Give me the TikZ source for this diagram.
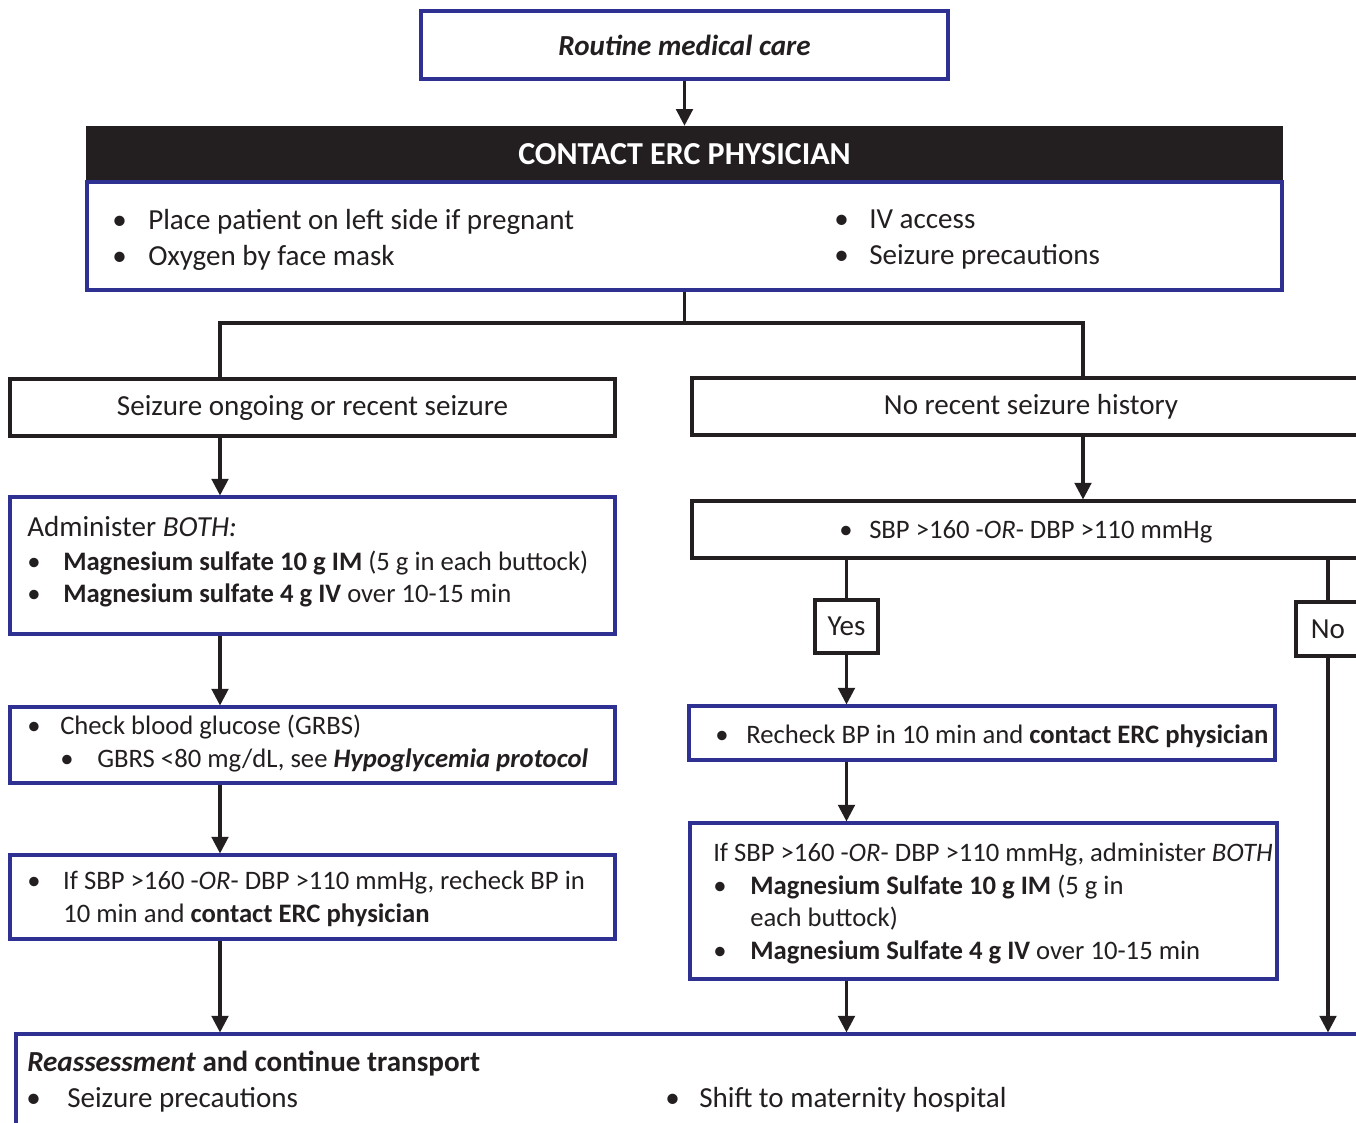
\documentclass[tikz,border=0pt]{standalone}
\usepackage{fontspec}
\setmainfont{Carlito}
\usetikzlibrary{arrows.meta}
\definecolor{navy}{RGB}{46,49,146}
\definecolor{ink}{RGB}{35,31,32}
\newcommand{\bul}[1]{\makebox[#1][l]{\textbullet}}

\begin{document}
\begin{tikzpicture}[x=0.75pt,y=-0.75pt,
  bluebox/.style={draw=navy,line width=2.3pt,fill=white,inner sep=0pt,text=ink},
  blackbox/.style={draw=ink,line width=2.3pt,fill=white,inner sep=0pt,text=ink},
  txt/.style={anchor=base west,inner sep=0pt,text=ink},
  sm/.style={font=\fontsize{20}{24}\selectfont},
  con/.style={draw=ink,line width=2.3pt},
  arr/.style={con,-{Triangle[width=12.5pt,length=12.5pt]}},
  every node/.style={font=\fontsize{21.8}{26}\selectfont}]
\useasboundingbox (0,0) rectangle (1356,1122);
\clip (0,0) rectangle (1356,1122);

% boxes
\node[bluebox,minimum width=395.25pt,minimum height=51pt] (routine) at (684.5,45) {\textbf{\textit{Routine medical care}}};
\node[fill=ink,text=white,inner sep=0pt,minimum width=898pt,minimum height=42pt,font=\fontsize{24}{28}\selectfont] (contact) at (684.5,154) {\textbf{CONTACT ERC PHYSICIAN}};
\node[bluebox,minimum width=896.25pt,minimum height=81pt] (info) at (684.5,236) {};
\node[blackbox,minimum width=453.75pt,minimum height=42.75pt] (seiz) at (312.5,407.5) {Seizure ongoing or recent seizure};
\node[blackbox,minimum width=508.5pt,minimum height=42.75pt] (nohist) at (1031,406.5) {No recent seizure history};
\node[bluebox,minimum width=453.75pt,minimum height=102.75pt] (admin) at (312.5,565.5) {};
\node[bluebox,minimum width=453.75pt,minimum height=57pt] (gluc) at (312.5,745) {};
\node[bluebox,minimum width=453.75pt,minimum height=63pt] (bpchk) at (312.5,897) {};
\node[blackbox,minimum width=508.5pt,minimum height=42.75pt] (sbp) at (1031,529.5) {};
\node[blackbox,minimum width=47.25pt,minimum height=39.75pt] (yes) at (846.5,626.5) {Yes};
\node[blackbox,minimum width=48pt,minimum height=40.5pt] (no) at (1328,629) {No};
\node[bluebox,minimum width=439.5pt,minimum height=40.5pt] (recheck) at (982,733) {};
\node[bluebox,minimum width=440.25pt,minimum height=117pt] (magr) at (983.5,901) {};
\node[bluebox,minimum width=1012.5pt,minimum height=75pt] (reassess) at (691,1084) {};

% connectors
\coordinate (split) at (684.5,323);
\coordinate (lsplit) at (220,323);
\coordinate (rsplit) at (1083,323);
\draw[arr] (routine.south) -- (contact.north);
\draw[con] (info.south) -- (split);
\draw[con,line join=miter] (lsplit |- seiz.north) -- (lsplit) -- (rsplit) -- (rsplit |- nohist.north);
\draw[arr] (seiz.south -| lsplit) -- (admin.north -| lsplit);
\draw[arr] (admin.south -| lsplit) -- (gluc.north -| lsplit);
\draw[arr] (gluc.south -| lsplit) -- (bpchk.north -| lsplit);
\draw[arr] (bpchk.south -| lsplit) -- (reassess.north -| lsplit);
\draw[arr] (nohist.south -| rsplit) -- (sbp.north -| rsplit);
\draw[con] (sbp.south -| yes) -- (yes.north);
\draw[arr] (yes.south) -- (recheck.north -| yes);
\draw[arr] (recheck.south -| yes) -- (magr.north -| yes);
\draw[arr] (magr.south -| yes) -- (reassess.north -| yes);
\draw[con] (sbp.south -| no) -- (no.north);
\draw[arr] (no.south) -- (reassess.north -| no);

% texts
\node[txt] (info1) at (112,229) {\bul{27pt}Place patient on left side if pregnant};
\node[txt] (info2) at (112,265) {\bul{27pt}Oxygen by face mask};
\node[txt] (info3) at (834,228) {\bul{26.25pt}IV access};
\node[txt] (info4) at (834,264) {\bul{26.25pt}Seizure precautions};

\node[txt] (admin1) at (27,536) {Administer \textit{BOTH:}};
\node[txt,sm] (admin2) at (27,570) {\bul{27pt}\textbf{Magnesium sulfate 10 g IM} (5 g in each buttock)};
\node[txt,sm] (admin3) at (27,602) {\bul{27pt}\textbf{Magnesium sulfate 4 g IV} over 10-15 min};

\node[txt,sm] (gluc1) at (27,734) {\bul{24.75pt}Check blood glucose (GRBS)};
\node[txt,sm] (gluc2) at (60,767) {\bul{27.75pt}GBRS <80 mg/dL, see \textbf{\textit{Hypoglycemia protocol}}};

\node[txt,sm] (bpchk1) at (27,889) {\bul{27pt}If SBP >160 -\textit{OR}- DBP >110 mmHg, recheck BP in};
\node[txt,sm] (bpchk2) at (63,922) {10 min and \textbf{contact ERC physician}};

\node[txt,sm] (sbp1) at (839,538) {\bul{22.5pt}SBP >160 -\textit{OR}- DBP >110 mmHg};
\node[txt,sm] (recheck1) at (715,743) {\bul{23.25pt}Recheck BP in 10 min and \textbf{contact ERC physician}};

\node[txt,sm] (magr1) at (713,861) {If SBP >160 -\textit{OR}- DBP >110 mmHg, administer \textit{BOTH}};
\node[txt,sm] (magr2) at (713,894) {\bul{27.75pt}\textbf{Magnesium Sulfate 10 g IM} (5 g in};
\node[txt,sm] (magr3) at (750,926) {each buttock)};
\node[txt,sm] (magr4) at (713,959) {\bul{27.75pt}\textbf{Magnesium Sulfate 4 g IV} over 10-15 min};

\node[txt] (re1) at (27,1071) {\textbf{\textit{Reassessment} and continue transport}};
\node[txt] (re2) at (26,1107) {\bul{30.75pt}Seizure precautions};
\node[txt] (re3) at (665,1107) {\bul{25.5pt}Shift to maternity hospital};
\end{tikzpicture}
\end{document}
